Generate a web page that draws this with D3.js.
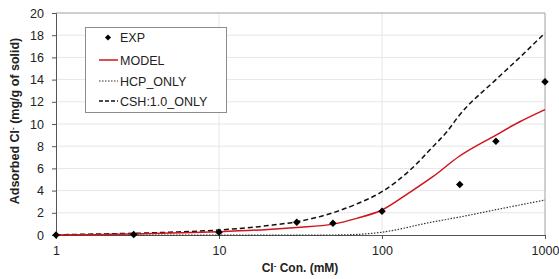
<!DOCTYPE html>
<html>
<head>
<meta charset="utf-8">
<script src="https://cdn.jsdelivr.net/npm/d3@7"></script>
<style>
  body { margin: 0; background: #fff; }
  text { font-family: "Liberation Sans", Arial, sans-serif; fill: #222; }
</style>
</head>
<body>
<figure style="margin:0"></figure>
<script>
// ---- data ----
const expX = [1, 3, 10, 30, 50, 100, 300, 500, 1000]
const expY = [0.0, 0.05, 0.24, 1.14, 1.05, 2.13, 4.56, 8.44, 13.8]

const modelX = [1, 2, 3, 5, 10, 20, 30, 50, 70, 100, 145, 205, 295, 500, 700, 1000]
const modelY = [0, 0.05, 0.1, 0.18, 0.3, 0.5, 0.68, 0.98, 1.5, 2.25, 3.75, 5.25, 7.05, 9.0, 10.2, 11.3]

const hcpX = [1, 10, 50, 70, 100, 200, 300, 500, 1000]
const hcpY = [0, 0, 0, 0.05, 0.25, 1.15, 1.62, 2.28, 3.15]

const cshX = [1, 2, 3, 5, 10, 20, 30, 50, 70, 100, 150, 205, 250, 295, 500, 700, 1000]
const cshY = [0.02, 0.1, 0.15, 0.25, 0.45, 0.85, 1.2, 2.0, 2.8, 3.9, 5.9, 7.95, 9.3, 10.7, 14.0, 16.0, 18.2]

const xTicks = [1, 10, 100, 1000]
const yTicks = [0, 2, 4, 6, 8, 10, 12, 14, 16, 18, 20]

// ---- setup ----
const svgWidth = 559, svgHeight = 279
const svg = d3.select('figure').append('svg')
  .attr('width', svgWidth).attr('height', svgHeight)

const x = d3.scaleLog().domain([1, 1000]).range([56, 545])
const y = d3.scaleLinear().domain([0, 20]).range([235, 13])

// gridlines
svg.append('g').selectAll('line').data(yTicks.slice(1, -1)).enter().append('line')
  .attr('x1', x(1)).attr('x2', x(1000))
  .attr('y1', d => y(d)).attr('y2', d => y(d))
  .attr('stroke', '#e6e6e6').attr('stroke-width', 1)
svg.append('g').selectAll('line').data(xTicks.slice(1, -1)).enter().append('line')
  .attr('x1', d => x(d)).attr('x2', d => x(d))
  .attr('y1', y(0)).attr('y2', y(20))
  .attr('stroke', '#e6e6e6').attr('stroke-width', 1)

// plot border (top, right)
svg.append('path')
  .attr('d', `M${x(1)},${y(20)}H${x(1000)}V${y(0)}`)
  .attr('fill', 'none').attr('stroke', '#a0a0a0').attr('stroke-width', 1)

// axes
const yAxis = svg.append('g')
  .attr('transform', `translate(${x(1)},0)`)
  .call(d3.axisLeft(y).tickValues(yTicks).tickSize(4).tickPadding(8).tickFormat(d3.format('d')))
const xAxis = svg.append('g')
  .attr('transform', `translate(0,${y(0)})`)
  .call(d3.axisBottom(x).tickValues(xTicks).tickSize(4).tickPadding(7).tickFormat(d3.format('d')))
;[xAxis, yAxis].forEach(a => {
  a.select('.domain').attr('stroke', '#555')
  a.selectAll('.tick line').attr('stroke', '#555')
  a.selectAll('.tick text').style('font-size', '12.5px').style('fill', '#222')
    .style('font-family', '"Liberation Sans", Arial, sans-serif')
})

// lines
const line = d3.line().curve(d3.curveMonotoneX)
function series(xs, ys) { return xs.map((v, i) => [x(v), y(ys[i])]) }

svg.append('path').attr('d', line(series(hcpX, hcpY)))
  .attr('fill', 'none').attr('stroke', '#333').attr('stroke-width', 1.2)
  .attr('stroke-dasharray', '1.5,1.5')
svg.append('path').attr('d', line(series(cshX, cshY)))
  .attr('fill', 'none').attr('stroke', '#111').attr('stroke-width', 1.5)
  .attr('stroke-dasharray', '5,3')
svg.append('path').attr('d', line(series(modelX, modelY)))
  .attr('fill', 'none').attr('stroke', '#d0141c').attr('stroke-width', 1.5)

// markers
const diamond = d3.symbol().type(d3.symbolDiamond2).size(36)
svg.append('g').selectAll('path').data(expX).enter().append('path')
  .attr('d', diamond)
  .attr('transform', (d, i) => `translate(${x(d)},${y(expY[i])})`)
  .attr('fill', '#000')

// legend
const lg = svg.append('g')
lg.append('rect').attr('x', 85.5).attr('y', 27.5).attr('width', 141).attr('height', 85)
  .attr('fill', '#fff').attr('stroke', '#8c8c8c').attr('stroke-width', 1)
const legendItems = ['EXP', 'MODEL', 'HCP_ONLY', 'CSH:1.0_ONLY']
const legendY = [37.5, 60, 81, 101]
legendItems.forEach((name, i) => {
  const ly = legendY[i]
  if (i === 0) {
    lg.append('path').attr('d', d3.symbol().type(d3.symbolDiamond2).size(24))
      .attr('transform', `translate(108,${ly})`).attr('fill', '#000')
  } else {
    const l = lg.append('line').attr('x1', 99).attr('x2', 118).attr('y1', ly).attr('y2', ly)
    if (i === 1) l.attr('stroke', '#d0141c').attr('stroke-width', 1.5)
    if (i === 2) l.attr('stroke', '#333').attr('stroke-width', 1.2).attr('stroke-dasharray', '1.5,1.5')
    if (i === 3) l.attr('stroke', '#111').attr('stroke-width', 1.5).attr('stroke-dasharray', '4,2')
  }
  lg.append('text').attr('x', 120).attr('y', ly + 4.5)
    .style('font-size', '12.5px').text(name)
})

// axis titles
const xt = svg.append('text')
  .attr('x', 300).attr('y', 272)
  .attr('text-anchor', 'middle')
  .style('font-size', '12px').style('font-weight', 'bold')
xt.append('tspan').text('Cl')
xt.append('tspan').attr('dy', -4).style('font-size', '8px').text('-')
xt.append('tspan').attr('dy', 4).text(' Con. (mM)')

const yt = svg.append('text')
  .attr('transform', `translate(19,121) rotate(-90)`)
  .attr('text-anchor', 'middle')
  .style('font-size', '12.5px').style('font-weight', 'bold')
yt.append('tspan').text('Adsorbed Cl')
yt.append('tspan').attr('dy', -4).style('font-size', '8px').text('-')
yt.append('tspan').attr('dy', 4).text('  (mg/g of solid)')
</script>
</body>
</html>
